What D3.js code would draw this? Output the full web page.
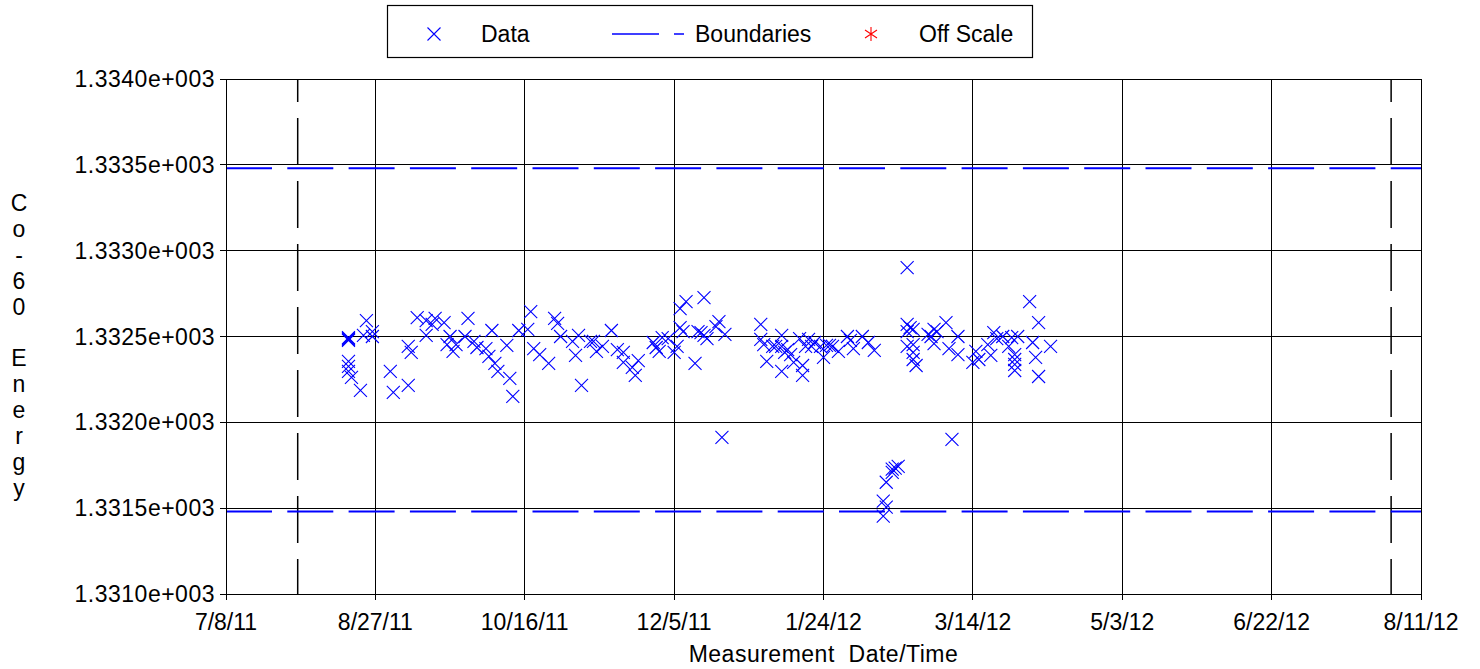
<!DOCTYPE html>
<html>
<head>
<meta charset="utf-8">
<script src="https://cdn.jsdelivr.net/npm/d3@7"></script>
<style>
  body { margin: 0; background: #fff; }
  text { font-family: "Liberation Sans", Arial, sans-serif; fill: #000; }
</style>
</head>
<body>
<script>
// tick labels
var xTickLabels = ["7/8/11", "8/27/11", "10/16/11", "12/5/11", "1/24/12", "3/14/12", "5/3/12", "6/22/12", "8/11/12"];
var yTicks = [1331.0, 1331.5, 1332.0, 1332.5, 1333.0, 1333.5, 1334.0];
var yTickLabels = ["1.3310e+003", "1.3315e+003", "1.3320e+003", "1.3325e+003", "1.3330e+003", "1.3335e+003", "1.3340e+003"];

// limits
var boundaries = [1333.48, 1331.48];
var periodMarks = ["8/1/11", "8/1/12"];

// measurements: [date, Co-60 energy]
var measurements = [
  ["8/18/11", 1332.494], ["8/18/11", 1332.483], ["8/18/11", 1332.488], ["8/18/11", 1332.477],
  ["8/18/11", 1332.355], ["8/18/11", 1332.326], ["8/18/11", 1332.297], ["8/19/11", 1332.262],
  ["8/22/11", 1332.186], ["8/24/11", 1332.593], ["8/23/11", 1332.506], ["8/26/11", 1332.529],
  ["8/26/11", 1332.500],
  ["9/1/11", 1332.297], ["9/2/11", 1332.174], ["9/7/11", 1332.442], ["9/8/11", 1332.407],
  ["9/7/11", 1332.215], ["9/10/11", 1332.610], ["9/13/11", 1332.593], ["9/13/11", 1332.506],
  ["9/15/11", 1332.570], ["9/16/11", 1332.605], ["9/19/11", 1332.581], ["9/21/11", 1332.500],
  ["9/20/11", 1332.453], ["9/23/11", 1332.453], ["9/22/11", 1332.413], ["9/27/11", 1332.605],
  ["9/26/11", 1332.500], ["9/29/11", 1332.471], ["9/30/11", 1332.436],
  ["10/3/11", 1332.430], ["10/5/11", 1332.535], ["10/4/11", 1332.384], ["10/6/11", 1332.343],
  ["10/7/11", 1332.297], ["10/10/11", 1332.448], ["10/11/11", 1332.256], ["10/12/11", 1332.151],
  ["10/14/11", 1332.535], ["10/17/11", 1332.541], ["10/18/11", 1332.645], ["10/19/11", 1332.430],
  ["10/21/11", 1332.395], ["10/24/11", 1332.343], ["10/26/11", 1332.605], ["10/27/11", 1332.576],
  ["10/28/11", 1332.500],
  ["11/1/11", 1332.471], ["11/3/11", 1332.506], ["11/2/11", 1332.390], ["11/4/11", 1332.215],
  ["11/7/11", 1332.471], ["11/8/11", 1332.471], ["11/9/11", 1332.413], ["11/11/11", 1332.442],
  ["11/14/11", 1332.535], ["11/16/11", 1332.424], ["11/18/11", 1332.407], ["11/18/11", 1332.349],
  ["11/21/11", 1332.320], ["11/23/11", 1332.360], ["11/22/11", 1332.273], ["11/28/11", 1332.465],
  ["11/29/11", 1332.436], ["11/30/11", 1332.413],
  ["12/1/11", 1332.494], ["12/3/11", 1332.488], ["12/5/11", 1332.407], ["12/6/11", 1332.442],
  ["12/7/11", 1332.663], ["12/9/11", 1332.703], ["12/7/11", 1332.552], ["12/8/11", 1332.529],
  ["12/12/11", 1332.343], ["12/13/11", 1332.529], ["12/14/11", 1332.523], ["12/15/11", 1332.727],
  ["12/15/11", 1332.506], ["12/16/11", 1332.488], ["12/19/11", 1332.558], ["12/20/11", 1332.587],
  ["12/22/11", 1332.512], ["12/21/11", 1331.913],
  ["1/3/12", 1332.570], ["1/3/12", 1332.483], ["1/4/12", 1332.453], ["1/5/12", 1332.355],
  ["1/7/12", 1332.442], ["1/8/12", 1332.442], ["1/10/12", 1332.506], ["1/10/12", 1332.442],
  ["1/11/12", 1332.407], ["1/12/12", 1332.424], ["1/13/12", 1332.395], ["1/10/12", 1332.297],
  ["1/14/12", 1332.349], ["1/16/12", 1332.488], ["1/17/12", 1332.331], ["1/17/12", 1332.273],
  ["1/18/12", 1332.442], ["1/19/12", 1332.483], ["1/20/12", 1332.442], ["1/21/12", 1332.465],
  ["1/23/12", 1332.442], ["1/24/12", 1332.378], ["1/25/12", 1332.448], ["1/26/12", 1332.448],
  ["1/27/12", 1332.442], ["1/29/12", 1332.413],
  ["2/1/12", 1332.500], ["2/2/12", 1332.477], ["2/3/12", 1332.430], ["2/6/12", 1332.500],
  ["2/8/12", 1332.465], ["2/10/12", 1332.419],
  ["2/13/12", 1331.453], ["2/14/12", 1331.506], ["2/13/12", 1331.541], ["2/14/12", 1331.651],
  ["2/16/12", 1331.709], ["2/16/12", 1331.727], ["2/17/12", 1331.733], ["2/18/12", 1331.744],
  ["2/21/12", 1332.901], ["2/21/12", 1332.570], ["2/22/12", 1332.552], ["2/21/12", 1332.529],
  ["2/23/12", 1332.541], ["2/21/12", 1332.442], ["2/23/12", 1332.407], ["2/23/12", 1332.366],
  ["2/24/12", 1332.331], ["2/23/12", 1332.453], ["2/28/12", 1332.512], ["2/29/12", 1332.500],
  ["3/1/12", 1332.541], ["3/2/12", 1332.529], ["3/1/12", 1332.459], ["3/5/12", 1332.581],
  ["3/9/12", 1332.500], ["3/6/12", 1332.430], ["3/9/12", 1332.395], ["3/7/12", 1331.901],
  ["3/15/12", 1332.413], ["3/14/12", 1332.349], ["3/16/12", 1332.366], ["3/20/12", 1332.390],
  ["3/21/12", 1332.523], ["3/22/12", 1332.488], ["3/19/12", 1332.453], ["3/24/12", 1332.500],
  ["3/26/12", 1332.442], ["3/27/12", 1332.494], ["3/29/12", 1332.500], ["3/28/12", 1332.395],
  ["3/28/12", 1332.366], ["3/28/12", 1332.337], ["3/28/12", 1332.302],
  ["4/2/12", 1332.703], ["4/5/12", 1332.581], ["4/3/12", 1332.465], ["4/4/12", 1332.378],
  ["4/9/12", 1332.442], ["4/5/12", 1332.267]
];

var legendLabels = ["Data", "Boundaries", "Off Scale"];

var parseDate = d3.timeParse("%m/%d/%y");
var fontSize = "23px";

var svg = d3.select("body").append("svg")
    .attr("width", 1480)
    .attr("height", 669);

var x = d3.scaleTime()
    .domain([parseDate(xTickLabels[0]), parseDate(xTickLabels[xTickLabels.length - 1])])
    .range([226, 1421]);

var y = d3.scaleLinear()
    .domain([1331.0, 1334.0])
    .range([594, 79]);

// grid
var grid = svg.append("g").attr("shape-rendering", "crispEdges");
grid.selectAll(".hgrid").data(yTicks).enter().append("line")
    .attr("x1", x.range()[0] - 6).attr("x2", x.range()[1])
    .attr("y1", function (d) { return y(d); })
    .attr("y2", function (d) { return y(d); })
    .style("stroke", "#000").style("stroke-width", 1);

grid.selectAll(".vgrid").data(xTickLabels).enter().append("line")
    .attr("x1", function (d) { return x(parseDate(d)); })
    .attr("x2", function (d) { return x(parseDate(d)); })
    .attr("y1", y.range()[1]).attr("y2", y.range()[0] + 6)
    .style("stroke", "#000").style("stroke-width", 1);

// period limits (black dashed)
svg.selectAll(".period").data(periodMarks).enter().append("line")
    .attr("x1", function (d) { return x(parseDate(d)); })
    .attr("x2", function (d) { return x(parseDate(d)); })
    .attr("y1", y.range()[1]).attr("y2", y.range()[0])
    .style("stroke", "#000").style("stroke-width", 1.5)
    .style("stroke-dasharray", "47,16")
    .style("stroke-dashoffset", 24);

// boundaries (blue dashed)
svg.selectAll(".bound").data(boundaries).enter().append("line")
    .attr("x1", x.range()[0]).attr("x2", x.range()[1])
    .attr("y1", function (d) { return y(d); })
    .attr("y2", function (d) { return y(d); })
    .style("stroke", "#0000ff").style("stroke-width", 2)
    .style("stroke-dasharray", "46,15.3");

// frame
svg.append("rect")
    .attr("x", x.range()[0]).attr("y", y.range()[1])
    .attr("width", x.range()[1] - x.range()[0])
    .attr("height", y.range()[0] - y.range()[1])
    .attr("shape-rendering", "crispEdges")
    .style("fill", "none").style("stroke", "#000").style("stroke-width", 1);

// tick labels
svg.selectAll(".ylab").data(yTicks).enter().append("text")
    .attr("x", 215)
    .attr("y", function (d) { return y(d) + 8; })
    .attr("text-anchor", "end")
    .style("font-size", fontSize)
    .style("letter-spacing", "0.5px")
    .text(function (d, i) { return yTickLabels[i]; });

svg.selectAll(".xlab").data(xTickLabels).enter().append("text")
    .attr("x", function (d) { return x(parseDate(d)); })
    .attr("y", 630)
    .attr("text-anchor", "middle")
    .style("font-size", fontSize)
    .text(function (d) { return d; });

// axis titles
svg.append("text")
    .attr("x", (x.range()[0] + x.range()[1]) / 2)
    .attr("y", 662)
    .attr("text-anchor", "middle")
    .style("font-size", fontSize)
    .style("white-space", "pre")
    .style("letter-spacing", "0.5px")
    .text("Measurement  Date/Time");

var yTitle = "Co-60 Energy".split("");
svg.selectAll(".ytitle").data(yTitle).enter().append("text")
    .attr("x", 19)
    .attr("y", function (d, i) { return 211 + i * 25.9; })
    .attr("text-anchor", "middle")
    .style("font-size", fontSize)
    .text(function (d) { return d; });

// data markers
var cross = "M-6.5,-6.5L6.5,6.5M-6.5,6.5L6.5,-6.5";
svg.append("g").selectAll("path").data(measurements).enter().append("path")
    .attr("transform", function (d) { return "translate(" + x(parseDate(d[0])) + "," + y(d[1]) + ")"; })
    .attr("d", cross)
    .style("fill", "none").style("stroke", "#0000ff").style("stroke-width", 1.1);

// legend
var legend = svg.append("g");
legend.append("rect")
    .attr("x", 387.5).attr("y", 5.5).attr("width", 645).attr("height", 52)
    .style("fill", "#fff").style("stroke", "#000").style("stroke-width", 1.2);

legend.append("path")
    .attr("transform", "translate(434,34)")
    .attr("d", cross)
    .style("fill", "none").style("stroke", "#0000ff").style("stroke-width", 1.1);

legend.append("line")
    .attr("x1", 612).attr("x2", 684).attr("y1", 34).attr("y2", 34)
    .style("stroke", "#0000ff").style("stroke-width", 1.5)
    .style("stroke-dasharray", "47,15");

legend.append("path")
    .attr("transform", "translate(871,34)")
    .attr("d", "M0,-7L0,7M-6,-4L6,4M-6,4L6,-4")
    .style("fill", "none").style("stroke", "#ff0000").style("stroke-width", 1.1);

var legendX = [481, 695, 919];
legend.selectAll(".ltext").data(legendLabels).enter().append("text")
    .attr("x", function (d, i) { return legendX[i]; })
    .attr("y", 42)
    .style("font-size", fontSize)
    .text(function (d) { return d; });
</script>
</body>
</html>
